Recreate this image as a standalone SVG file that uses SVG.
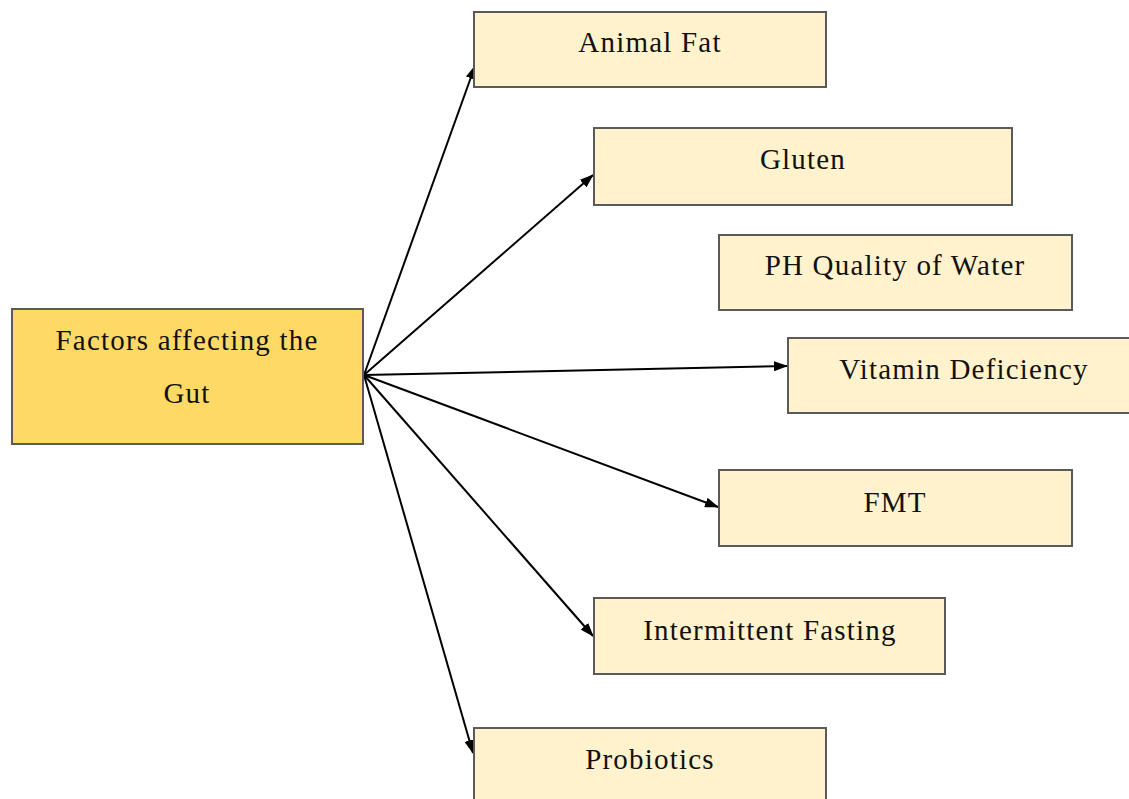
<svg xmlns="http://www.w3.org/2000/svg" width="1129" height="799" viewBox="0 0 1129 799">
<style>
.box{fill:#FFF2CC;stroke:#5a5a5a;stroke-width:2}
.main{fill:#FFD966;stroke:#5a5a5a;stroke-width:2}
.t{font-family:"Liberation Serif","Times New Roman",serif;font-size:29px;letter-spacing:1.2px;fill:#111;text-anchor:middle}
.c{stroke:#000;stroke-width:2;fill:none;marker-end:url(#ah)}
</style>
<defs>
<marker id="ah" markerWidth="14" markerHeight="10" refX="13" refY="5" orient="auto" markerUnits="userSpaceOnUse" viewBox="0 0 14 10">
<path d="M0,0 L14,5 L0,10 z" fill="#000"/>
</marker>
</defs>
<rect width="1129" height="799" fill="#fff"/>
<g id="connectors">
<line class="c" x1="364" y1="375" x2="475" y2="66"/>
<line class="c" x1="364" y1="375" x2="593" y2="175"/>
<line class="c" x1="364" y1="375" x2="787" y2="366"/>
<line class="c" x1="364" y1="375" x2="718" y2="507"/>
<line class="c" x1="364" y1="375" x2="593" y2="636"/>
<line class="c" x1="364" y1="375" x2="473" y2="753"/>
</g>
<g id="node-main">
<rect class="main" x="12" y="309" width="351" height="135"/>
<text class="t" x="187" y="350">Factors affecting the</text>
<text class="t" x="187" y="403">Gut</text>
</g>
<g id="node-animal-fat">
<rect class="box" x="474" y="12" width="352" height="75"/>
<text class="t" x="650" y="52">Animal Fat</text>
</g>
<g id="node-gluten">
<rect class="box" x="594" y="128" width="418" height="77"/>
<text class="t" x="803" y="169">Gluten</text>
</g>
<g id="node-ph">
<rect class="box" x="719" y="235" width="353" height="75"/>
<text class="t" x="895" y="275">PH Quality of Water</text>
</g>
<g id="node-vitamin">
<rect class="box" x="788" y="338" width="352" height="75"/>
<text class="t" x="964" y="379">Vitamin Deficiency</text>
</g>
<g id="node-fmt">
<rect class="box" x="719" y="470" width="353" height="76"/>
<text class="t" x="895" y="512">FMT</text>
</g>
<g id="node-if">
<rect class="box" x="594" y="598" width="351" height="76"/>
<text class="t" x="770" y="640">Intermittent Fasting</text>
</g>
<g id="node-probiotics">
<rect class="box" x="474" y="728" width="352" height="80"/>
<text class="t" x="650" y="769">Probiotics</text>
</g>
</svg>
